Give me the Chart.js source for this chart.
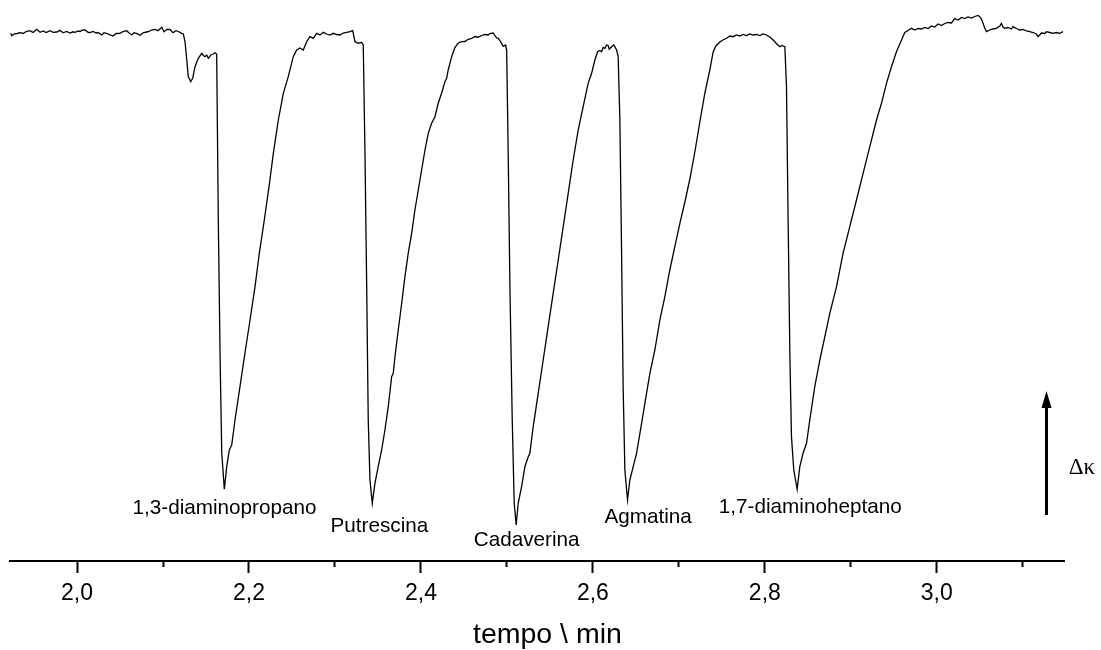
<!DOCTYPE html>
<html lang="pt">
<head>
<meta charset="utf-8">
<title>Eletroferograma – poliaminas</title>
<script src="https://cdn.jsdelivr.net/npm/chart.js@4/dist/chart.umd.min.js"></script>
<style>
  html, body { margin: 0; padding: 0; background: #ffffff; }
  #grafico { display: block; }
</style>
</head>
<body>
<canvas id="grafico" width="1101" height="650"></canvas>
<script>
// Eletroferograma: sinal de condutividade (unidades arbitrárias) vs tempo (min)

// Linha de base inicial
const tempoInicio = [
  1.9229, 1.9241, 1.9267, 1.9302, 1.9337, 1.9372, 1.9407, 1.9453, 1.9488, 1.9531,
  1.9570, 1.9605, 1.9640, 1.9686, 1.9721, 1.9764, 1.9802, 1.9837, 1.9880, 1.9919,
  1.9953, 1.9977, 2.0012, 2.0035, 2.0058, 2.0093, 2.0128, 2.0151, 2.0186, 2.0221,
  2.0244, 2.0287, 2.0314, 2.0349, 2.0384, 2.0419, 2.0453, 2.0500, 2.0535, 2.0578,
  2.0605, 2.0636, 2.0663, 2.0698, 2.0733, 2.0767, 2.0810, 2.0837, 2.0872, 2.0907,
  2.0942, 2.0985, 2.1012, 2.1047, 2.1081, 2.1116, 2.1151, 2.1178, 2.1217, 2.1236
];
const sinalInicio = [
  52.77, 52.53, 52.70, 52.75, 52.83, 52.75, 52.95, 53.03, 52.85, 53.17,
  52.87, 53.00, 52.85, 53.03, 52.87, 52.90, 53.07, 52.82, 52.95, 52.80,
  52.92, 52.87, 53.00, 52.95, 53.08, 53.10, 52.87, 52.85, 52.95, 52.80,
  52.85, 52.60, 52.83, 52.75, 52.62, 52.50, 52.75, 52.77, 52.95, 53.03,
  52.80, 52.60, 52.83, 52.73, 52.57, 52.82, 52.90, 52.95, 53.12, 53.17,
  53.03, 53.37, 52.93, 53.17, 53.15, 52.83, 53.03, 52.95, 52.77, 52.70
];

// Perturbação inicial e pico do 1,3-diaminopropano
const tempoPico1 = [
  2.1256, 2.1276, 2.1294, 2.1322, 2.1345, 2.1372, 2.1410, 2.1450, 2.1469, 2.1488,
  2.1508, 2.1527, 2.1555, 2.1585, 2.1605, 2.1624, 2.1643, 2.1663, 2.1683, 2.1713,
  2.1741, 2.1771, 2.1799, 2.1837, 2.1895, 2.1953, 2.2012, 2.2070, 2.2120, 2.2178,
  2.2233, 2.2283, 2.2341, 2.2399, 2.2457, 2.2515, 2.2555, 2.2593, 2.2631, 2.2671,
  2.2709, 2.2748, 2.2787, 2.2826, 2.2864, 2.2903, 2.2942, 2.2980, 2.3020, 2.3058,
  2.3097, 2.3136, 2.3174, 2.3206, 2.3233, 2.3271, 2.3310, 2.3329
];
const sinalPico1 = [
  51.93, 50.10, 48.43, 47.93, 48.27, 49.43, 50.27, 50.77, 50.55, 50.43,
  50.60, 50.27, 50.60, 50.70, 50.83, 50.70, 34.10, 20.80, 10.80, 7.17,
  9.43, 11.10, 11.60, 14.10, 17.43, 20.80, 24.10, 27.43, 30.77, 34.10,
  37.43, 40.77, 44.10, 46.77, 48.43, 50.43, 51.10, 51.30, 51.10, 51.93,
  52.43, 52.27, 52.77, 52.60, 52.87, 52.70, 52.60, 52.77, 52.65, 52.60,
  52.80, 52.87, 52.93, 53.03, 51.93, 51.77, 51.87, 51.60
];

// Putrescina
const tempoPico2 = [
  2.3349, 2.3369, 2.3387, 2.3407, 2.3434, 2.3465, 2.3503, 2.3543, 2.3581, 2.3620,
  2.3659, 2.3678, 2.3698, 2.3736, 2.3776, 2.3814, 2.3852, 2.3892, 2.3930, 2.3969,
  2.4008, 2.4047, 2.4085, 2.4124, 2.4163, 2.4201, 2.4241, 2.4279, 2.4299, 2.4317,
  2.4357, 2.4395, 2.4434, 2.4473, 2.4512, 2.4550, 2.4590, 2.4628, 2.4666, 2.4706,
  2.4744, 2.4783, 2.4802, 2.4841, 2.4880, 2.4899, 2.4919, 2.4957, 2.4985, 2.4997
];
const sinalPico2 = [
  40.80, 27.43, 14.10, 8.10, 5.77, 7.77, 9.43, 11.10, 13.10, 15.43,
  18.43, 18.77, 20.43, 23.10, 25.77, 28.43, 30.77, 32.77, 35.10, 37.10,
  39.10, 41.10, 42.77, 43.77, 44.43, 45.77, 46.80, 47.93, 48.27, 49.10,
  50.43, 51.35, 51.80, 51.93, 51.95, 52.17, 52.25, 52.45, 52.38, 52.55,
  52.65, 52.60, 52.75, 52.80, 52.30, 52.27, 52.03, 51.47, 51.60, 51.10
];

// Cadaverina
const tempoPico3 = [
  2.5015, 2.5035, 2.5062, 2.5085, 2.5108, 2.5131, 2.5171, 2.5209, 2.5248, 2.5267,
  2.5306, 2.5364, 2.5422, 2.5480, 2.5538, 2.5597, 2.5655, 2.5713, 2.5771, 2.5829,
  2.5887, 2.5945, 2.5985, 2.6023, 2.6055, 2.6081, 2.6101, 2.6120, 2.6140, 2.6159,
  2.6178, 2.6190, 2.6209, 2.6227, 2.6244, 2.6276, 2.6294
];
const sinalPico3 = [
  40.77, 27.43, 14.10, 5.77, 3.60, 5.77, 7.43, 9.43, 10.43, 10.77,
  13.43, 16.77, 20.10, 23.43, 26.77, 30.10, 33.43, 36.77, 40.10, 43.10,
  45.43, 47.77, 48.77, 50.10, 50.93, 51.05, 50.93, 51.35, 51.27, 51.60,
  51.55, 51.17, 51.35, 51.50, 51.60, 51.10, 50.43
];

// Agmatina
const tempoPico4 = [
  2.6314, 2.6334, 2.6352, 2.6372, 2.6403, 2.6430, 2.6469, 2.6508, 2.6547, 2.6605,
  2.6663, 2.6721, 2.6779, 2.6837, 2.6895, 2.6953, 2.7012, 2.7070, 2.7128, 2.7186,
  2.7244, 2.7302, 2.7360, 2.7399, 2.7430, 2.7477, 2.7512, 2.7555, 2.7593, 2.7631,
  2.7671, 2.7709, 2.7748, 2.7787, 2.7826, 2.7864, 2.7903, 2.7942, 2.7980, 2.8020,
  2.8058, 2.8097, 2.8116, 2.8140, 2.8174, 2.8198, 2.8233
];
const sinalPico4 = [
  44.10, 30.77, 17.43, 9.10, 6.10, 8.10, 9.43, 10.77, 12.77, 15.77,
  18.77, 21.10, 24.10, 26.43, 29.10, 31.43, 33.77, 35.90, 38.20, 40.90,
  43.90, 46.77, 49.10, 50.90, 51.50, 51.90, 52.10, 52.27, 52.50, 52.43,
  52.60, 52.50, 52.65, 52.55, 52.70, 52.60, 52.65, 52.55, 52.70, 52.60,
  52.40, 52.10, 51.93, 51.70, 51.43, 51.55, 51.43
];

// 1,7-diaminoheptano e linha de base final
const tempoPico5 = [
  2.8252, 2.8271, 2.8291, 2.8310, 2.8337, 2.8376, 2.8407, 2.8445, 2.8485, 2.8523,
  2.8581, 2.8640, 2.8698, 2.8756, 2.8834, 2.8910, 2.8988, 2.9066, 2.9143, 2.9221,
  2.9299, 2.9357, 2.9415, 2.9473, 2.9531, 2.9590, 2.9628, 2.9666, 2.9706, 2.9744,
  2.9783, 2.9822, 2.9860, 2.9899, 2.9938, 2.9977, 3.0015, 3.0055, 3.0093, 3.0131,
  3.0171, 3.0209, 3.0248, 3.0287, 3.0326, 3.0364, 3.0404, 3.0442, 3.0480, 3.0500,
  3.0520, 3.0538, 3.0558, 3.0578, 3.0616, 3.0655, 3.0694, 3.0733, 3.0752, 3.0771,
  3.0791, 3.0829, 3.0869, 3.0887, 3.0927, 3.0965, 3.1003, 3.1043, 3.1081, 3.1120,
  3.1159, 3.1178, 3.1217, 3.1256, 3.1276, 3.1314, 3.1352, 3.1392, 3.1430, 3.1469
];
const sinalPico5 = [
  47.43, 34.10, 20.77, 12.43, 9.10, 7.17, 9.43, 10.77, 11.77, 14.10,
  17.43, 20.10, 22.43, 24.77, 27.43, 30.77, 33.43, 36.10, 38.77, 41.43,
  44.10, 45.77, 47.77, 49.43, 50.93, 52.10, 52.85, 53.05, 53.27, 53.10,
  53.25, 53.20, 53.35, 53.25, 53.50, 53.40, 53.70, 53.55, 53.75, 53.85,
  53.80, 54.25, 54.10, 54.35, 54.25, 54.40, 54.30, 54.45, 54.55, 54.43,
  54.20, 53.77, 53.30, 52.93, 53.10, 53.20, 53.27, 53.50, 53.77, 53.40,
  53.27, 53.35, 53.20, 53.43, 53.25, 53.10, 53.15, 53.00, 52.93, 52.85,
  52.70, 52.43, 52.80, 52.75, 52.93, 52.85, 52.77, 52.85, 52.77, 52.93
];

// Marcas rotuladas do eixo do tempo
const marcasTempo = [2.0, 2.2, 2.4, 2.6, 2.8, 3.0];

// Identificação dos picos
const nomesPicos = ['1,3-diaminopropano', 'Putrescina', 'Cadaverina', 'Agmatina', '1,7-diaminoheptano'];

// Pontos de ancoragem dos rótulos (tempo, sinal), separados dos dados
const ancoraRotulos = [
  { t: 2.1715, s: 4.70 },
  { t: 2.3517, s: 2.90 },
  { t: 2.5229, s: 1.50 },
  { t: 2.6643, s: 3.80 },
  { t: 2.8529, s: 4.80 }
];
const seta = { t: 3.1276, base: 4.6, topo: 17.0, textoT: 3.1535, textoS: 8.67 };
const tituloEixo = { texto: 'tempo \\ min', t: 2.5471 };

const tempo = [].concat(tempoInicio, tempoPico1, tempoPico2, tempoPico3, tempoPico4, tempoPico5);
const sinal = [].concat(sinalInicio, sinalPico1, sinalPico2, sinalPico3, sinalPico4, sinalPico5);
const pontos = tempo.map((t, i) => ({ x: t, y: sinal[i] }));

const SANS = '"Liberation Sans", Arial, Helvetica, sans-serif';

const anotacoes = {
  id: 'anotacoes',
  afterDraw(chart) {
    const { ctx, scales: { x, y } } = chart;
    ctx.save();
    ctx.fillStyle = '#000';
    ctx.strokeStyle = '#000';

    // rótulos dos picos
    ctx.font = '20.7px ' + SANS;
    ctx.textAlign = 'center';
    ctx.textBaseline = 'alphabetic';
    nomesPicos.forEach((nome, i) => {
      ctx.fillText(nome, x.getPixelForValue(ancoraRotulos[i].t), y.getPixelForValue(ancoraRotulos[i].s));
    });

    // título do eixo x
    ctx.font = '28.5px ' + SANS;
    ctx.fillText(tituloEixo.texto, x.getPixelForValue(tituloEixo.t), chart.height - 7);

    // seta indicando o sentido de aumento de condutividade
    const ax = Math.round(x.getPixelForValue(seta.t)) + 0.5;
    const yBase = y.getPixelForValue(seta.base);
    const yTopo = y.getPixelForValue(seta.topo);
    ctx.lineWidth = 3;
    ctx.beginPath();
    ctx.moveTo(ax, yBase);
    ctx.lineTo(ax, yTopo + 12);
    ctx.stroke();
    ctx.beginPath();
    ctx.moveTo(ax, yTopo);
    ctx.lineTo(ax - 5, yTopo + 17);
    ctx.lineTo(ax + 5, yTopo + 17);
    ctx.closePath();
    ctx.fill();

    ctx.font = '23px "Liberation Serif", "Times New Roman", serif';
    ctx.textAlign = 'left';
    ctx.fillText('\u0394\u03BA', x.getPixelForValue(seta.textoT), y.getPixelForValue(seta.textoS));
    ctx.restore();
  }
};

const ehMarcaPrincipal = (v) => marcasTempo.some(m => Math.abs(m - v) < 1e-6);

new Chart(document.getElementById('grafico'), {
  type: 'line',
  data: {
    datasets: [{
      data: pontos,
      borderColor: '#000000',
      borderWidth: 1.3,
      pointRadius: 0,
      tension: 0,
      fill: false
    }]
  },
  options: {
    responsive: false,
    animation: false,
    events: [],
    layout: { padding: { left: 10, right: 37, top: 0, bottom: 0 } },
    plugins: {
      legend: { display: false },
      tooltip: { enabled: false }
    },
    scales: {
      x: {
        type: 'linear',
        position: 'bottom',
        min: 1.922,
        max: 3.148,
        border: { display: true, color: '#000000', width: 2 },
        grid: {
          display: true,
          drawOnChartArea: false,
          drawTicks: true,
          tickLength: 12,
          tickWidth: 2,
          tickColor: '#000000',
          tickBorderDash: (c) => (c.tick && ehMarcaPrincipal(c.tick.value)) ? [] : [5, 100]
        },
        ticks: {
          stepSize: 0.1,
          includeBounds: false,
          autoSkip: false,
          maxRotation: 0,
          padding: 7,
          color: '#000000',
          font: { family: SANS, size: 23 },
          callback: (v) => ehMarcaPrincipal(v) ? v.toFixed(1).replace('.', ',') : ''
        },
        title: { display: false },
        afterFit: (escala) => { escala.height = 89; }
      },
      y: {
        display: false,
        min: 0,
        max: 56.1
      }
    }
  },
  plugins: [anotacoes]
});
</script>
</body>
</html>
